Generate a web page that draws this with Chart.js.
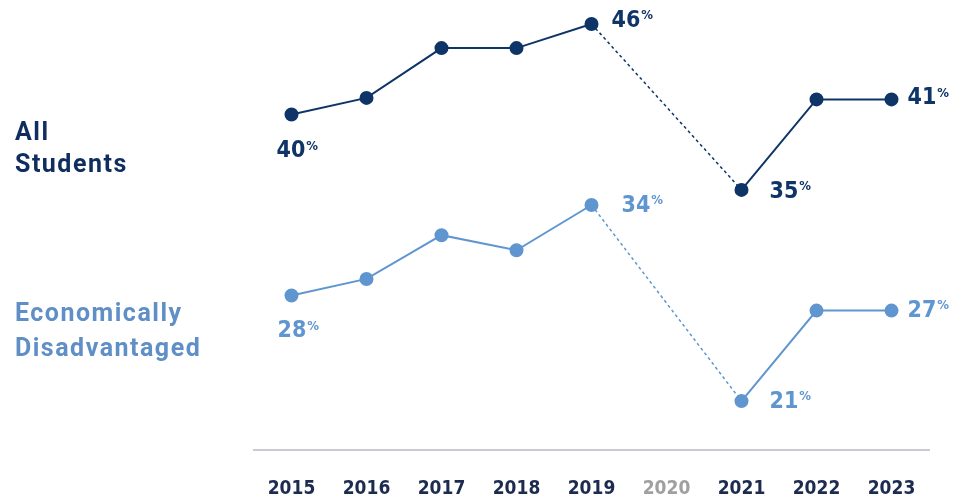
<!DOCTYPE html>
<html>
<head>
<meta charset="utf-8">
<script src="https://cdn.jsdelivr.net/npm/chart.js@4/dist/chart.umd.min.js"></script>
<style>
  body { margin: 0; background: #fff; }
  #wrap { position: relative; width: 954px; height: 500px; }
  .side { position: absolute; left: 15px; font-family: Roboto, "Liberation Sans", sans-serif;
          font-weight: bold; font-size: 25px; letter-spacing: 1.5px; line-height: 32px; }
</style>
</head>
<body>
<div id="wrap">
  <canvas id="chart" width="954" height="500"></canvas>
  <div class="side" style="top:116px;color:#0f2d5e">All<br>Students</div>
  <div class="side" style="top:295px;line-height:35px;color:#5f8fc6">Economically<br>Disadvantaged</div>
</div>
<script>
var years = ["2015", "2016", "2017", "2018", "2019", "2020", "2021", "2022", "2023"];
var allStudents = [40, 41.1, 44.4, 44.4, 46, null, 35, 41, 41];
var econDisadv = [28, 29.1, 32, 31, 34, null, 21, 27, 27];
var labelledAll = [0, 4, 6, 8];
var labelledEcon = [0, 4, 6, 8];

var navy = '#0f3468';
var light = '#6096cf';
var numFont = '"DejaVu Sans Condensed", "Liberation Sans Narrow", sans-serif';

// where each value label sits relative to its point
var spots = {
    0: { 0: [-15, 37], 4: [20, -3], 6: [28, 2], 8: [16, -1] },
    1: { 0: [-14, 36], 4: [30, 1], 6: [28, 1], 8: [16, 0] }
};

var valueLabels = {
    id: 'valueLabels',
    afterDatasetsDraw: function(chart) {
        var c = chart.ctx;
        [labelledAll, labelledEcon].forEach(function(list, di) {
            var meta = chart.getDatasetMeta(di);
            var ds = chart.data.datasets[di];
            list.forEach(function(i) {
                var pt = meta.data[i];
                var off = spots[di][i];
                var x = pt.x + off[0], y = pt.y + off[1];
                var txt = String(Math.round(ds.data[i]));
                c.save();
                c.fillStyle = ds.borderColor;
                c.textBaseline = 'middle';
                c.textAlign = 'left';
                c.font = 'bold 23px ' + numFont;
                c.fillText(txt, x, y);
                var w = c.measureText(txt).width;
                c.font = 'bold 13px ' + numFont;
                c.fillText('%', x + w + 1, y - 5);
                c.restore();
            });
        });
    }
};

function seriesFor(i) { return i === 0 ? allStudents : econDisadv; }
// the 2019 -> 2021 stretch has no 2020 value, so it is dashed
function gapDash(ctx) {
    return seriesFor(ctx.datasetIndex)[ctx.p0DataIndex] == null ? [3, 3] : undefined;
}

var ctx = document.getElementById('chart').getContext('2d');
var chart = new Chart(ctx, {
    type: 'line',
    data: {
        labels: years,
        datasets: [{
            label: 'All Students',
            data: allStudents,
            borderColor: navy,
            backgroundColor: navy,
            borderWidth: 2,
            pointRadius: 6,
            pointHoverRadius: 6,
            spanGaps: true,
            segment: { borderDash: gapDash, borderWidth: function(c) { return gapDash(c) ? 1.5 : 2; } }
        }, {
            label: 'Economically Disadvantaged',
            data: econDisadv,
            borderColor: light,
            backgroundColor: light,
            borderWidth: 2,
            pointRadius: 6,
            pointHoverRadius: 6,
            spanGaps: true,
            segment: { borderDash: gapDash, borderWidth: function(c) { return gapDash(c) ? 1.5 : 2; } }
        }]
    },
    options: {
        responsive: false,
        animation: false,
        layout: { padding: { left: 254, right: 25, top: 11, bottom: 0 } },
        plugins: { legend: { display: false }, tooltip: { enabled: false } },
        scales: {
            x: {
                offset: true,
                grid: { display: false },
                border: { display: true, color: '#c8ccd2', width: 2 },
                afterFit: function(scale) { scale.height = 50; },
                ticks: {
                    padding: 20,
                    maxRotation: 0,
                    font: { family: numFont, size: 19, weight: 'bold' },
                    color: function(c) { return years[c.index] === '2020' ? '#a0a0a0' : '#1c2b4f'; }
                }
            },
            y: { display: false, min: 17.76, max: 46.86 }
        }
    },
    plugins: [valueLabels]
});
</script>
</body>
</html>
